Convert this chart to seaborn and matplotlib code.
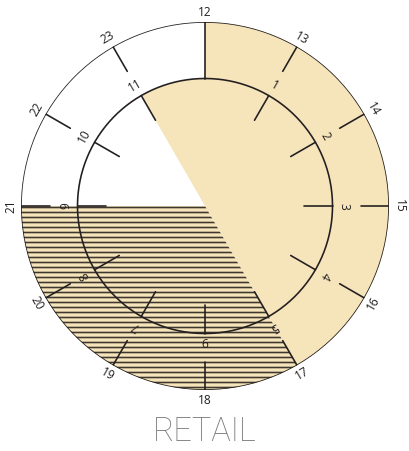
import numpy as np
import pandas as pd
import matplotlib
matplotlib.use("Agg")
import matplotlib.pyplot as plt
import seaborn as sns

# dial hours, read clockwise from the top
outer_hours = [12, 13, 14, 15, 16, 17, 18, 19, 20, 21, 22, 23]
inner_hours = [1, 2, 3, 4, 5, 6, 7, 8, 9, 10, 11]

# shaded spans as dial positions (start, end), 17 = 5 o'clock
inner_solid = (11, 17)
outer_solid = (12, 17)
hatched_span = (17, 21)

title = "RETAIL"

# <--- style --->
beige = "#f6e4bb"
ink = "#231f20"
hatch_ink = "#3e382f"
R_OUT, R_IN = 184, 127.5
TICK = 28.5

plt.rcParams["hatch.linewidth"] = 1.3
sns.set_style("white")
plt.rcParams["font.family"] = ["Open Sans", "DejaVu Sans"]


def ang(pos):
    return (pos % 12) / 12 * 2 * np.pi


def span_bar(ax, span, r0, r1, **kw):
    width = (span[1] - span[0]) / 12 * 2 * np.pi
    ax.bar(ang(span[0]) + width / 2, r1 - r0, width=width, bottom=r0,
           align="center", **kw)


dpi = 90
fig = plt.figure(figsize=(409 / dpi, 451 / dpi), dpi=dpi)
ax = fig.add_axes([21 / 409, 61 / 451, 368 / 409, 368 / 451], projection="polar")
ax.set_theta_zero_location("N")
ax.set_theta_direction(-1)

span_bar(ax, inner_solid, 0, R_IN, color=beige, linewidth=0)
span_bar(ax, outer_solid, R_IN, R_OUT, color=beige, linewidth=0)
span_bar(ax, hatched_span, 0, R_OUT, facecolor=beige, edgecolor=hatch_ink,
         linewidth=0, hatch="---")

# ring outlines
t = np.linspace(0, 2 * np.pi, 400)
for r in (R_IN, R_OUT):
    ax.plot(t, np.full_like(t, r), color=ink, lw=1.3)

# tick marks, one short radial segment per hour
rows = []
for h in outer_hours[1:]:
    rows += [(f"o{h}", ang(h), R_OUT - TICK), (f"o{h}", ang(h), R_OUT)]
for h in inner_hours:
    rows += [(f"i{h}", ang(h), R_IN - TICK), (f"i{h}", ang(h), R_IN)]
rows += [("div", 0.0, R_IN), ("div", 0.0, R_OUT)]
ticks = pd.DataFrame(rows, columns=["seg", "theta", "r"])
sns.lineplot(data=ticks, x="theta", y="r", units="seg", estimator=None,
             sort=False, color=ink, lw=1.3, ax=ax)

# hour labels
for h in outer_hours:
    deg = (h % 12) * 30
    rot = 180 - deg if 90 < deg < 270 else -deg
    ax.text(ang(h), 194, str(h), rotation=rot, rotation_mode="anchor",
            ha="center", va="center", fontsize=9.5, color=ink)
for h in inner_hours:
    deg = h * 30
    rot = 0 if h == 6 else -deg
    ax.text(ang(h), 139, str(h), rotation=rot, rotation_mode="anchor",
            ha="center", va="center", fontsize=9.5, color=ink)

ax.set_rlim(0, R_OUT)
ax.grid(False)
ax.set_xticks([])
ax.set_yticks([])
ax.set_xlabel("")
ax.set_ylabel("")
ax.spines["polar"].set_visible(False)

fig.text(205 / 409, 1 - 432 / 451, title, ha="center", va="center",
         fontsize=26, color="#7a7a7a", family=["Roboto", "DejaVu Sans"],
         fontweight=100)

fig.savefig("out.png", dpi=dpi)
